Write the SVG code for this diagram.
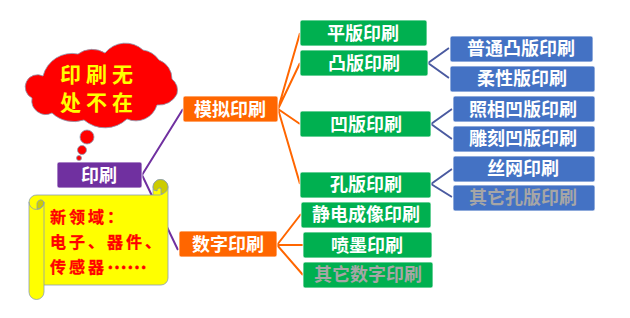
<svg xmlns="http://www.w3.org/2000/svg" width="630" height="318" viewBox="0 0 630 318">
<style>
text{font-family:"Noto Sans CJK SC","Noto Sans",sans-serif;font-weight:700;text-anchor:middle;dominant-baseline:central}
.box{stroke-width:.8;stroke:#fff}
.root{fill:#7030A0}.l1{fill:#FF6600}.l2{fill:#00B050}.l3{fill:#4472C4}
.t{fill:#fff;font-size:18px}.muted{fill:#A6A6A6}
.conn{fill:none;stroke-width:2}
.p{stroke:#7030A0}.o{stroke:#FF6600}.b{stroke:#4A5AA0}
.red{fill:#FF0000}.note{fill:#FF0000;stroke:#FF0000;stroke-width:.3;font-size:16px;letter-spacing:3px;text-anchor:start}
.yel{fill:#FFFF00;font-size:21px;letter-spacing:5px}
.edge{stroke:#8A9DB5;stroke-width:.8}
</style>
<rect width="630" height="318" fill="#fff"/>
<g id="connectors" class="conn">
<path class="p" d="M142,175L183,109M142,175L178,250"/>
<path class="o" d="M278,109L300,33M278,109L300,63M278,109L300,124M278,109L300,184M277,245L301,214M277,245L303,245M277,245L303,275"/>
<path class="b" d="M428,63L449,48M428,63L449,78M431,124L452,109M431,124L452,139M431,184L452,169M431,184L452,197"/>
</g>
<g id="cloud">
<path class="red edge" d="M32,98A11,11 0 0 1 43,76A30,30 0 0 1 78,54A24,24 0 0 1 105,53A26,26 0 0 1 143,50A24,24 0 0 1 159,60A20,20 0 0 1 172,79A15,15 0 0 1 177,94A20,20 0 0 1 157,105A22,22 0 0 1 127,119A32,32 0 0 1 84,120A32,32 0 0 1 52,113A14,14 0 0 1 32,98Z"/>
<circle class="red edge" cx="87" cy="137" r="7"/>
<circle class="red edge" cx="82" cy="150" r="4.5"/>
<circle class="red edge" cx="79" cy="158" r="2.5"/>
<text class="yel"><tspan x="99" y="73">印刷无</tspan><tspan x="99" y="101">处不在</tspan></text>
</g>
<g id="root"><rect class="box root" x="57" y="162" width="85" height="26" rx="2"/><text class="t" x="99" y="174">印刷</text></g>
<g id="analog"><rect class="box l1" x="183" y="96" width="95" height="26" rx="2"/><text class="t" x="230" y="108">模拟印刷</text></g>
<g id="digital"><rect class="box l1" x="179" y="231" width="98" height="26" rx="2"/><text class="t" x="228" y="243">数字印刷</text></g>
<g id="scroll">
<path fill="#FFFF00" class="edge" d="M37,195H153V187A7.5,7.5 0 0 1 168,187V278A7,7 0 0 1 161,285H44V292A7.5,7.5 0 0 1 29,292V202A7.5,7.5 0 0 1 37,195Z"/>
<path fill="#CCCC00" class="edge" d="M44,202A4,5 0 0 0 37,203V209A7,7 0 0 0 44,202Z"/>
<path fill="none" class="edge" d="M29,202A7.5,7.5 0 0 0 44,202V285M153,195H160A3.5,3.5 0 0 0 160,188"/>
<path fill="#CCCC00" class="edge" d="M153,187A7.5,7.5 0 0 1 168,187A7.5,7.5 0 0 1 161,194V188A3.5,3.5 0 0 0 157,191A4,4 0 0 1 153,187Z"/>
<text class="note" x="50" y="216">新领域：</text>
<text class="note" x="50" y="241">电子、器件、</text>
<text class="note" x="50" y="266">传感器<tspan letter-spacing="0" font-size="20">……</tspan></text>
</g>
<g id="n1"><rect class="box l2" x="300" y="20" width="127" height="26" rx="2"/><text class="t" x="363" y="32">平版印刷</text></g>
<g id="n2"><rect class="box l2" x="300" y="50" width="128" height="26" rx="2"/><text class="t" x="364" y="62">凸版印刷</text></g>
<g id="n3"><rect class="box l2" x="300" y="111" width="131" height="26" rx="2"/><text class="t" x="366" y="123">凹版印刷</text></g>
<g id="n4"><rect class="box l2" x="300" y="172" width="131" height="26" rx="2"/><text class="t" x="366" y="183">孔版印刷</text></g>
<g id="n5"><rect class="box l2" x="301" y="202" width="130" height="26" rx="2"/><text class="t" x="366" y="213">静电成像印刷</text></g>
<g id="n6"><rect class="box l2" x="303" y="232" width="129" height="26" rx="2"/><text class="t" x="367" y="244">喷墨印刷</text></g>
<g id="n7"><rect class="box l2" x="303" y="262" width="130" height="26" rx="2"/><text class="t muted" x="368" y="273">其它数字印刷</text></g>
<g id="m1"><rect class="box l3" x="450" y="36" width="143" height="26" rx="2"/><text class="t" x="521" y="47">普通凸版印刷</text></g>
<g id="m2"><rect class="box l3" x="450" y="66" width="145" height="26" rx="2"/><text class="t" x="522" y="77">柔性版印刷</text></g>
<g id="m3"><rect class="box l3" x="453" y="96" width="142" height="26" rx="2"/><text class="t" x="523" y="108">照相凹版印刷</text></g>
<g id="m4"><rect class="box l3" x="453" y="126" width="142" height="26" rx="2"/><text class="t" x="523" y="137">雕刻凹版印刷</text></g>
<g id="m5"><rect class="box l3" x="453" y="156" width="142" height="26" rx="2"/><text class="t" x="523" y="167">丝网印刷</text></g>
<g id="m6"><rect class="box l3" x="453" y="185" width="142" height="26" rx="2"/><text class="t muted" x="523" y="196">其它孔版印刷</text></g>
</svg>
